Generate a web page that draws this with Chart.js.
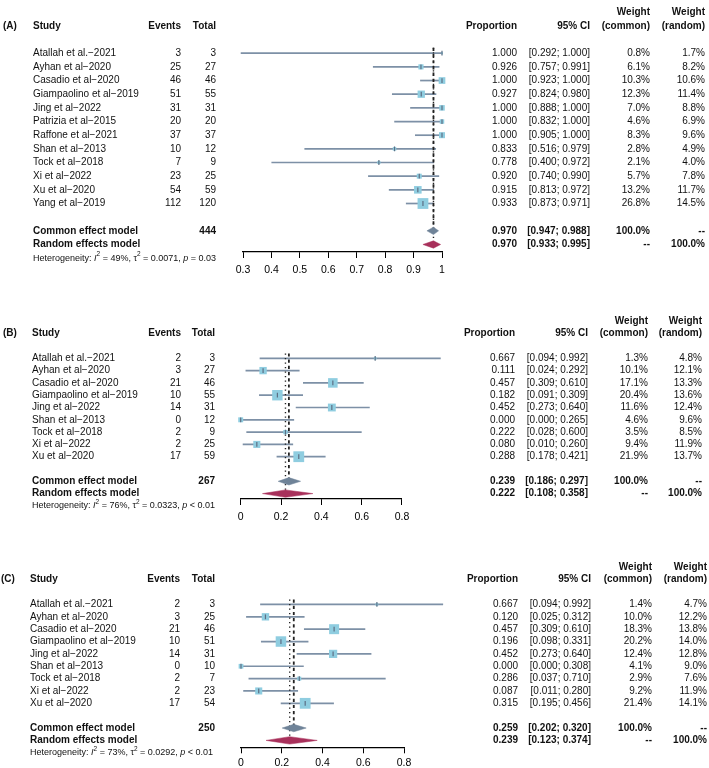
<!DOCTYPE html>
<html>
<head>
<meta charset="utf-8">
<script src="https://cdn.jsdelivr.net/npm/chart.js@4.4.0/dist/chart.umd.min.js"></script>
<style>
  html,body{margin:0;padding:0;background:#fff;}
  #wrap{position:relative;width:709px;height:768px;overflow:hidden;}
  #wrap canvas{position:absolute;left:0;}
</style>
</head>
<body>
<div id="wrap">
  <canvas id="panelA" width="709" height="290"></canvas>
  <canvas id="panelB" width="709" height="240"></canvas>
  <canvas id="panelC" width="709" height="228"></canvas>
</div>
<script>
// ---- data: panel (A)
const studiesA = ['Atallah et al.\u22122021','Ayhan et al\u22122020','Casadio et al\u22122020','Giampaolino et al\u22122019','Jing et al\u22122022','Patrizia et al\u22122015','Raffone et al\u22122021','Shan et al\u22122013','Tock et al\u22122018','Xi et al\u22122022','Xu et al\u22122020','Yang et al\u22122019'];
const eventsA = [3,25,46,51,31,20,37,10,7,23,54,112];
const totalsA = [3,27,46,55,31,20,37,12,9,25,59,120];
const propA = [1.000,0.926,1.000,0.927,1.000,1.000,1.000,0.833,0.778,0.920,0.915,0.933];
const lowA = [0.292,0.757,0.923,0.824,0.888,0.832,0.905,0.516,0.400,0.740,0.813,0.873];
const highA = [1.000,0.991,1.000,0.980,1.000,1.000,1.000,0.979,0.972,0.990,0.972,0.971];
const wCommonA = [0.8,6.1,10.3,12.3,7.0,4.6,8.3,2.8,2.1,5.7,13.2,26.8];
const wRandomA = [1.7,8.2,10.6,11.4,8.8,6.9,9.6,4.9,4.0,7.8,11.7,14.5];
const commonA = [0.970,0.947,0.988];   // estimate, lower, upper
const randomA = [0.970,0.933,0.995];
const hetA = ['49%','0.0071','= 0.03'];
const ticksA = [0.3,0.4,0.5,0.6,0.7,0.8,0.9,1];

// ---- data: panel (B)
const studiesB = ['Atallah et al.\u22122021','Ayhan et al\u22122020','Casadio et al\u22122020','Giampaolino et al\u22122019','Jing et al\u22122022','Shan et al\u22122013','Tock et al\u22122018','Xi et al\u22122022','Xu et al\u22122020'];
const eventsB = [2,3,21,10,14,0,2,2,17];
const totalsB = [3,27,46,55,31,12,9,25,59];
const propB = [0.667,0.111,0.457,0.182,0.452,0.000,0.222,0.080,0.288];
const lowB = [0.094,0.024,0.309,0.091,0.273,0.000,0.028,0.010,0.178];
const highB = [0.992,0.292,0.610,0.309,0.640,0.265,0.600,0.260,0.421];
const wCommonB = [1.3,10.1,17.1,20.4,11.6,4.6,3.5,9.4,21.9];
const wRandomB = [4.8,12.1,13.3,13.6,12.4,9.6,8.5,11.9,13.7];
const commonB = [0.239,0.186,0.297];
const randomB = [0.222,0.108,0.358];
const hetB = ['76%','0.0323','< 0.01'];
const ticksB = [0,0.2,0.4,0.6,0.8];

// ---- data: panel (C)
const studiesC = studiesB.slice();
const eventsC = [2,3,21,10,14,0,2,2,17];
const totalsC = [3,25,46,51,31,10,7,23,54];
const propC = [0.667,0.120,0.457,0.196,0.452,0.000,0.286,0.087,0.315];
const lowC = [0.094,0.025,0.309,0.098,0.273,0.000,0.037,0.011,0.195];
const highC = [0.992,0.312,0.610,0.331,0.640,0.308,0.710,0.280,0.456];
const wCommonC = [1.4,10.0,18.3,20.2,12.4,4.1,2.9,9.2,21.4];
const wRandomC = [4.7,12.2,13.8,14.0,12.8,9.0,7.6,11.9,14.1];
const commonC = [0.259,0.202,0.320];
const randomC = [0.239,0.123,0.374];
const hetC = ['73%','0.0292','< 0.01'];
const ticksC = [0,0.2,0.4,0.6,0.8];

// ---- look
const FONT = '"Liberation Sans", Arial, Helvetica, sans-serif';
const TXT = '#111';
const CI_COL = '#7d90a6', SQ_COL = '#8fcde0', EST_COL = '#5d6f84';
const COMMON_COL = '#6f8398', RANDOM_COL = '#a8305b';
const BOX_MAX = 10.8; // px side of the heaviest study box

// layout per panel (pixels in the 709x768 page)
const layoutA = {top:0, height:290, row0:47, rowH:14.09, axisY:252, left:243, right:442, tickPad:6, dh:0.27,
  cols:{tag:3, study:33, events:181, total:216, prop:517, ci:590, wc:650, wr:705}};
const layoutB = {top:300, height:240, row0:352.7, rowH:12.79, axisY:499, left:240.7, right:402, tickPad:6, dh:0.3,
  cols:{tag:3, study:32, events:181, total:215, prop:515, ci:588, wc:648, wr:702}};
const layoutC = {top:540, height:228, row0:599, rowH:12.83, axisY:747.3, left:241, right:404, tickPad:4, dh:0.3,
  cols:{tag:1, study:30, events:180, total:215, prop:518, ci:591, wc:652, wr:707}};

const f3 = v => v.toFixed(3);
const ci = (lo,hi) => '[' + f3(lo) + '; ' + f3(hi) + ']';
const pct = v => v.toFixed(1) + '%';

function richText(ctx, x, y, parts, size){
  parts.forEach(p=>{
    const s = p.sup ? size*0.72 : size;
    ctx.font = (p.it ? 'italic ' : '') + s + 'px ' + FONT;
    ctx.fillText(p.t, x, p.sup ? y - size*0.42 : y);
    x += ctx.measureText(p.t).width;
  });
}

// text columns of the forest table
const tablePlugin = {
  id:'table',
  afterDraw(chart, args, o){
    const ctx = chart.ctx, ys = chart.scales.y, c = o.cols, n = o.studies.length;
    const Y = r => ys.getPixelForValue(r);
    const put = (t, x, r, align, bold) => {
      ctx.font = (bold ? 'bold ' : '') + '10px ' + FONT;
      ctx.textAlign = align; ctx.fillText(t, x, Y(r));
    };
    ctx.save();
    ctx.fillStyle = TXT; ctx.textBaseline = 'middle';
    // headers
    put(o.tag, c.tag, -2, 'left', true);
    put('Study', c.study, -2, 'left', true);
    put('Events', c.events, -2, 'right', true);
    put('Total', c.total, -2, 'right', true);
    put('Proportion', c.prop, -2, 'right', true);
    put('95% CI', c.ci, -2, 'right', true);
    put('Weight', c.wc, -3, 'right', true);
    put('(common)', c.wc, -2, 'right', true);
    put('Weight', c.wr, -3, 'right', true);
    put('(random)', c.wr, -2, 'right', true);
    // studies
    o.studies.forEach((s,i)=>{
      put(s, c.study, i, 'left');
      put(String(o.events[i]), c.events, i, 'right');
      put(String(o.totals[i]), c.total, i, 'right');
      put(f3(o.prop[i]), c.prop, i, 'right');
      put(ci(o.low[i], o.high[i]), c.ci, i, 'right');
      put(pct(o.wc[i]), c.wc, i, 'right');
      put(pct(o.wr[i]), c.wr, i, 'right');
    });
    // pooled rows
    const total = o.totals.reduce((a,b)=>a+b,0);
    put('Common effect model', c.study, n+1, 'left', true);
    put(String(total), c.total, n+1, 'right', true);
    put(f3(o.common[0]), c.prop, n+1, 'right', true);
    put(ci(o.common[1], o.common[2]), c.ci, n+1, 'right', true);
    put('100.0%', c.wc, n+1, 'right', true);
    put('--', c.wr, n+1, 'right', true);
    put('Random effects model', c.study, n+2, 'left', true);
    put(f3(o.random[0]), c.prop, n+2, 'right', true);
    put(ci(o.random[1], o.random[2]), c.ci, n+2, 'right', true);
    put('--', c.wc, n+2, 'right', true);
    put('100.0%', c.wr, n+2, 'right', true);
    // heterogeneity
    ctx.textAlign = 'left';
    richText(ctx, c.study, Y(n+3), [
      {t:'Heterogeneity: '},{t:'I',it:1},{t:'2',sup:1},{t:' = ' + o.het[0] + ', \u03c4'},{t:'2',sup:1},
      {t:' = ' + o.het[1] + ', '},{t:'p',it:1},{t:' ' + o.het[2]}
    ], 9);
    ctx.restore();
  }
};

function diamond(v, row, h){
  return [{x:v[1],y:row},{x:v[0],y:row-h},{x:v[2],y:row},{x:v[0],y:row+h},{x:v[1],y:row}];
}

function buildPanel(id, tag, L, d){
  const cv = document.getElementById(id);
  cv.style.top = L.top + 'px';
  const n = d.studies.length;
  const wMax = Math.max(...d.wc);
  const pts = d.prop.map((v,i)=>({x:v, y:i}));
  const ds = [];
  d.studies.forEach((s,i)=>{
    ds.push({type:'line', data:[{x:d.low[i],y:i},{x:d.high[i],y:i}], borderColor:CI_COL, borderWidth:1.7,
      pointRadius:0, clip:false, order:6});
  });
  // reference lines: common (dashed) and random (dotted)
  ds.push({type:'line', data:[{x:d.common[0],y:-0.4},{x:d.common[0],y:n+1}], borderColor:'#222',
    borderDash:[3.2,3], borderWidth:1.8, pointRadius:0, clip:false, order:5});
  ds.push({type:'line', data:[{x:d.random[0],y:-0.4},{x:d.random[0],y:n+2}], borderColor:'#222',
    borderDash:[1.3,3.2], borderWidth:1.4, pointRadius:0, clip:false, order:5});
  // study boxes, area proportional to common weight
  ds.push({type:'scatter', data:pts, pointStyle:'rect', backgroundColor:SQ_COL, borderWidth:0,
    pointRadius:d.wc.map(w => BOX_MAX*Math.sqrt(w/wMax)*Math.SQRT1_2), clip:false, order:4});
  ds.push({type:'scatter', data:pts, pointStyle:'line', rotation:90, borderColor:EST_COL, borderWidth:1.2,
    pointRadius:2.4, clip:false, order:3});
  // pooled diamonds
  ds.push({type:'line', data:diamond(d.common, n+1, L.dh), fill:'shape', backgroundColor:COMMON_COL,
    borderColor:COMMON_COL, borderWidth:0.5, pointRadius:0, tension:0, clip:false, order:2});
  ds.push({type:'line', data:diamond(d.random, n+2, L.dh), fill:'shape', backgroundColor:RANDOM_COL,
    borderColor:RANDOM_COL, borderWidth:0.5, pointRadius:0, tension:0, clip:false, order:2});

  const band = L.height - (L.axisY - L.top);
  return new Chart(cv, {
    type:'scatter',
    data:{datasets:ds},
    plugins:[tablePlugin],
    options:{
      responsive:false, animation:false, events:[],
      layout:{padding:{left:L.left, right:709 - L.right, top:0, bottom:0}},
      plugins:{
        legend:{display:false}, tooltip:{enabled:false},
        table:Object.assign({tag:tag, cols:L.cols}, d)
      },
      scales:{
        x:{type:'linear', position:'bottom', min:d.ticks[0], max:d.ticks[d.ticks.length-1],
          afterBuildTicks:s=>{ s.ticks = d.ticks.map(v=>({value:v})); },
          afterFit:s=>{ s.height = band; },
          ticks:{color:'#000', font:{family:FONT, size:10.5}, padding:L.tickPad, maxRotation:0, autoSkip:false,
            callback:v=>String(+(+v).toFixed(2))},
          grid:{display:true, drawOnChartArea:false, drawTicks:true, tickLength:6, color:'#000', lineWidth:1},
          border:{display:true, color:'#000', width:1.2}
        },
        y:{type:'linear', display:false, reverse:true,
          min:-(L.row0 - L.top)/L.rowH, max:(L.axisY - L.row0)/L.rowH}
      }
    }
  });
}

buildPanel('panelA', '(A)', layoutA, {studies:studiesA, events:eventsA, totals:totalsA, prop:propA, low:lowA, high:highA,
  wc:wCommonA, wr:wRandomA, common:commonA, random:randomA, het:hetA, ticks:ticksA});
buildPanel('panelB', '(B)', layoutB, {studies:studiesB, events:eventsB, totals:totalsB, prop:propB, low:lowB, high:highB,
  wc:wCommonB, wr:wRandomB, common:commonB, random:randomB, het:hetB, ticks:ticksB});
buildPanel('panelC', '(C)', layoutC, {studies:studiesC, events:eventsC, totals:totalsC, prop:propC, low:lowC, high:highC,
  wc:wCommonC, wr:wRandomC, common:commonC, random:randomC, het:hetC, ticks:ticksC});
</script>
</body>
</html>
